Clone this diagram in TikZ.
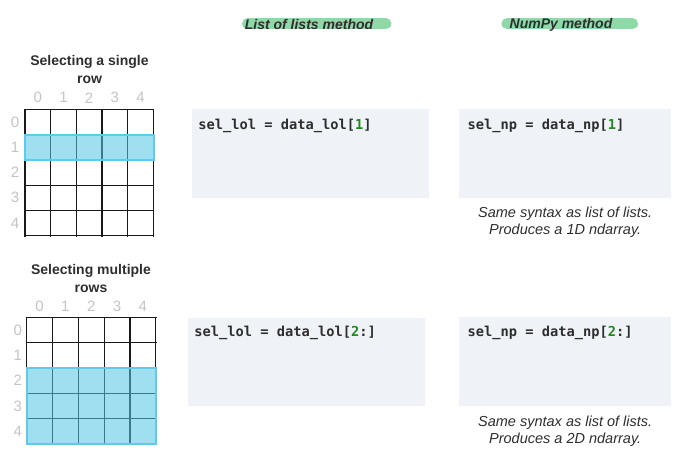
\documentclass[tikz,border=0pt]{standalone}
\usepackage{fontspec}
\setmainfont{Liberation Sans}
\setmonofont{DejaVu Sans Mono}
\usepackage{tikz}
\usetikzlibrary{calc, backgrounds, positioning}

\definecolor{codebg}{HTML}{EFF2F7}
\definecolor{selfill}{HTML}{54C6E5}
\definecolor{seledge}{HTML}{5BCBEE}
\definecolor{hlgreen}{HTML}{8ED9A8}
\definecolor{idxgray}{HTML}{C4C4C4}
\definecolor{numgreen}{HTML}{23891F}
\definecolor{txtdark}{HTML}{2E2E2E}

\tikzset{
    head/.style={inner sep=0, font=\bfseries\itshape\fontsize{14}{16}\selectfont, text=txtdark},
    hlbar/.style={line width=11pt, line cap=round, hlgreen},
    gridtitle/.style={inner sep=0, align=center, font=\bfseries\fontsize{14}{18}\selectfont, text=txtdark},
    idx/.style={inner sep=0, font=\fontsize{15}{16}\selectfont, text=idxgray},
    cellgrid/.style={line width=1.2pt, line cap=rect, black!90},
    selrow/.style={fill=selfill, fill opacity=0.56, draw=seledge, draw opacity=1, line width=2pt},
    codebox/.style={fill=codebg, draw=none, inner sep=0, anchor=north west},
    codetext/.style={anchor=west, inner sep=0, font=\ttfamily\bfseries\fontsize{13.7}{16}\selectfont, text=txtdark},
    caption/.style={anchor=north, inner sep=0, align=center, font=\itshape\fontsize{14.5}{16.7}\selectfont, text=txtdark}
}
\newcommand{\num}[1]{\textcolor{numgreen}{#1}}

\begin{document}
\begin{tikzpicture}[x=1pt, y=-1pt]
    \useasboundingbox (0,0) rectangle (685,455);

    % column headings
    \node[head] (headlol) at (309,24.5) {List of lists method};
    \node[head] (headnp) at (561,24.5) {NumPy method};
    \begin{scope}[on background layer]
        \draw[hlbar] ($(headlol.west)+(3,-0.7)$) -- ($(headlol.east)+(12.5,-0.7)$);
        \draw[hlbar] ($(headnp.west)+(-2.5,-0.7)$) -- ($(headnp.east)+(20,-0.7)$);
    \end{scope}

    % first grid: a single row
    \node[gridtitle] (titlesingle) at (89.5,69) {Selecting a single\\row};
    \node[inner sep=0, minimum width=128.3pt, minimum height=126.4pt, anchor=north west] (gridsingle) at (25,109.3) {};
    \foreach \k in {0,...,5} {
        \draw[cellgrid] ($(gridsingle.north west)+(25.66*\k,0)$) -- ($(gridsingle.south west)+(25.66*\k,0)$);
        \draw[cellgrid] ($(gridsingle.north west)+(0,25.28*\k)$) -- ($(gridsingle.north east)+(0,25.28*\k)$);
    }
    \foreach \i in {0,...,4} {
        \node[idx] at ($(gridsingle.north west)+(12.8+25.66*\i,-11.5)$) {\i};
        \node[idx] at ($(gridsingle.north west)+(-10,12.6+25.28*\i)$) {\i};
    }
    \draw[selrow] ($(gridsingle.north west)+(0,25.28)$) rectangle ($(gridsingle.north east)+(0,50.56)$);

    % second grid: multiple rows
    \node[gridtitle] (titlemulti) at (91,278.5) {Selecting multiple\\rows};
    \node[inner sep=0, minimum width=129pt, minimum height=126.7pt, anchor=north west] (gridmulti) at (26.7,317.3) {};
    \foreach \k in {0,...,5} {
        \draw[cellgrid] ($(gridmulti.north west)+(25.8*\k,0)$) -- ($(gridmulti.south west)+(25.8*\k,0)$);
        \draw[cellgrid] ($(gridmulti.north west)+(0,25.34*\k)$) -- ($(gridmulti.north east)+(0,25.34*\k)$);
    }
    \foreach \i in {0,...,4} {
        \node[idx] at ($(gridmulti.north west)+(12.9+25.8*\i,-11)$) {\i};
        \node[idx] at ($(gridmulti.north west)+(-9,12.7+25.34*\i)$) {\i};
    }
    \draw[selrow] ($(gridmulti.north west)+(0,50.68)$) rectangle (gridmulti.south east);

    % code boxes
    \node[codebox, minimum width=237.3pt, minimum height=88.7pt] (boxlol1) at (191.7,109) {};
    \node[codebox, minimum width=212pt, minimum height=88.7pt] (boxnp1) at (459,109) {};
    \node[codebox, minimum width=237.3pt, minimum height=88.4pt] (boxlol2) at (187.7,317.3) {};
    \node[codebox, minimum width=212pt, minimum height=88.7pt] (boxnp2) at (459,317) {};

    \node[codetext] (codelol1) at ($(boxlol1.north west)+(6.5,16.5)$) {sel\_lol = data\_lol[\num{1}]};
    \node[codetext] (codenp1) at ($(boxnp1.north west)+(8.5,16.5)$) {sel\_np = data\_np[\num{1}]};
    \node[codetext] (codelol2) at ($(boxlol2.north west)+(6.5,16)$) {sel\_lol = data\_lol[\num{2}:]};
    \node[codetext] (codenp2) at ($(boxnp2.north west)+(8.5,16)$) {sel\_np = data\_np[\num{2}:]};

    % notes under the NumPy boxes
    \node[caption, below=9pt of boxnp1.south] (notenp1) {Same syntax as list of lists.\\Produces a 1D ndarray.};
    \node[caption, below=10pt of boxnp2.south] (notenp2) {Same syntax as list of lists.\\Produces a 2D ndarray.};
\end{tikzpicture}
\end{document}
